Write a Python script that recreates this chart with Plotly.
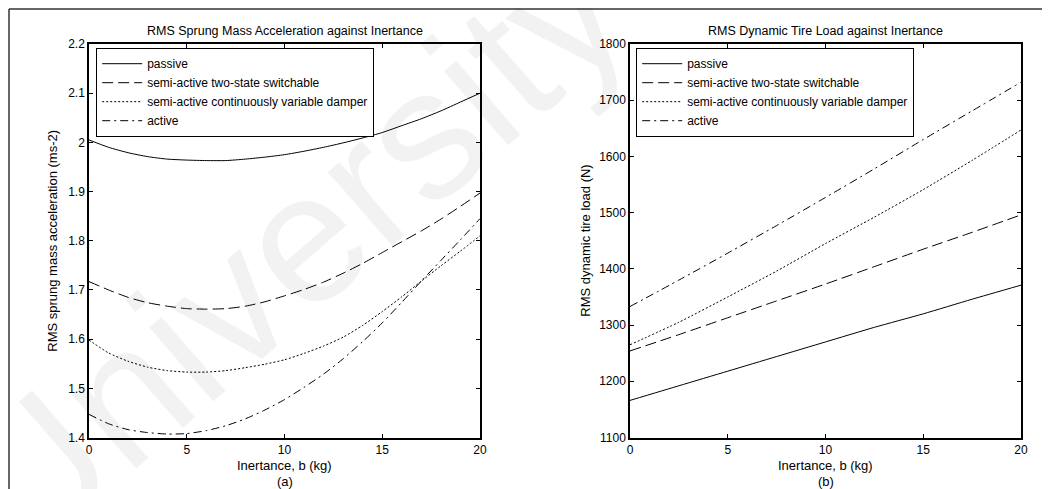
import plotly.graph_objects as go

# ---------------- data ----------------
b_a = list(range(0, 21))
acc_passive = [2.005, 1.990, 1.979, 1.971, 1.966, 1.964, 1.963, 1.963, 1.966, 1.970, 1.975,
               1.982, 1.990, 1.999, 2.009, 2.020, 2.034, 2.048, 2.064, 2.082, 2.100]
acc_two_state = [1.717, 1.700, 1.685, 1.674, 1.667, 1.662, 1.661, 1.662, 1.667, 1.676, 1.688,
                 1.701, 1.716, 1.734, 1.754, 1.776, 1.798, 1.820, 1.844, 1.870, 1.897]
acc_continuous = [1.598, 1.572, 1.555, 1.543, 1.536, 1.533, 1.533, 1.536, 1.542, 1.549, 1.558,
                  1.571, 1.586, 1.604, 1.628, 1.656, 1.686, 1.718, 1.749, 1.779, 1.810]
acc_active = [1.447, 1.428, 1.416, 1.410, 1.407, 1.408, 1.414, 1.424, 1.438, 1.456, 1.477,
              1.502, 1.529, 1.560, 1.595, 1.633, 1.675, 1.718, 1.760, 1.802, 1.845]

b_b = [0, 2.5, 5, 7.5, 10, 12.5, 15, 17.5, 20]
tire_passive = [1166, 1192, 1218, 1244, 1270, 1296, 1320, 1346, 1371]
tire_two_state = [1254, 1283, 1313, 1343, 1373, 1404, 1435, 1465, 1496]
tire_continuous = [1265, 1305, 1350, 1396, 1445, 1492, 1541, 1593, 1647]
tire_active = [1333, 1380, 1428, 1477, 1527, 1578, 1630, 1681, 1732]

names = ["passive", "semi-active two-state switchable",
         "semi-active continuously variable damper", "active"]
dashes = ["solid", "11px,5px", "2px,2px", "8px,4px,2px,4px"]

x_ticks = [0, 5, 10, 15, 20]
acc_ticks = [1.4, 1.5, 1.6, 1.7, 1.8, 1.9, 2.0, 2.1, 2.2]
acc_tick_text = ["1.4", "1.5", "1.6", "1.7", "1.8", "1.9", "2", "2.1", "2.2"]
tire_ticks = [1100, 1200, 1300, 1400, 1500, 1600, 1700, 1800]

FONT = "Liberation Sans, Arial, sans-serif"
OFF = 8                      # page body margin
W, H = 1050 - OFF, 489 - OFF  # figure size so it ends at the window edge


def fx(px):  # page px -> paper fraction (x)
    return (px - OFF) / W


def fy(py):  # page px -> paper fraction (y)
    return (H - (py - OFF)) / H


AX_L = (89, 480)
AX_R = (630, 1021)
AX_TOP, AX_BOT = 44, 437.5

fig = go.Figure()

for name, ys, d in zip(names, [acc_passive, acc_two_state, acc_continuous, acc_active], dashes):
    fig.add_trace(go.Scatter(x=b_a, y=ys, mode="lines", name=name, legend="legend",
                             line=dict(color="black", width=1, dash=d, shape="spline", smoothing=0.6),
                             xaxis="x", yaxis="y"))
for name, ys, d in zip(names, [tire_passive, tire_two_state, tire_continuous, tire_active], dashes):
    fig.add_trace(go.Scatter(x=b_b, y=ys, mode="lines", name=name, legend="legend2",
                             line=dict(color="black", width=1, dash=d, shape="spline", smoothing=0.6),
                             xaxis="x2", yaxis="y2"))

ydom = [fy(AX_BOT), fy(AX_TOP)]
axis_common = dict(showline=True, linecolor="black", linewidth=1.5, mirror="ticks",
                   ticks="inside", ticklen=4, tickcolor="black", showgrid=False, zeroline=False,
                   automargin=False,
                   tickfont=dict(family=FONT, size=12, color="black"))

legend_common = dict(xanchor="left", yanchor="top", bgcolor="white", bordercolor="black",
                     borderwidth=1.2, font=dict(family=FONT, size=12, color="black"),
                     tracegroupgap=0, itemwidth=40)

fig.update_layout(
    width=W, height=H,
    margin=dict(l=0, r=0, t=0, b=0, autoexpand=False),
    paper_bgcolor="white", plot_bgcolor="rgba(0,0,0,0)",
    font=dict(family=FONT, size=12, color="black"),
    xaxis=dict(domain=[fx(AX_L[0]), fx(AX_L[1])], range=[0, 20], tickvals=x_ticks, anchor="y",
               **axis_common),
    yaxis=dict(domain=ydom, range=[1.4, 2.2], tickvals=acc_ticks, ticktext=acc_tick_text, anchor="x",
               **axis_common),
    xaxis2=dict(domain=[fx(AX_R[0]), fx(AX_R[1])], range=[0, 20], tickvals=x_ticks, anchor="y2",
                **axis_common),
    yaxis2=dict(domain=ydom, range=[1100, 1800], tickvals=tire_ticks, anchor="x2",
                **axis_common),
    legend=dict(x=fx(96), y=fy(48), **legend_common),
    legend2=dict(x=fx(636), y=fy(48), **legend_common),
    showlegend=True,
)


def ann(text, xpx, ypx, angle=0, size=12.5, color="black"):
    return dict(text=text, x=fx(xpx), y=fy(ypx), xref="paper", yref="paper",
                xanchor="center", yanchor="middle", showarrow=False, textangle=angle,
                font=dict(family=FONT, size=size, color=color))


cxl = (AX_L[0] + AX_L[1]) / 2
cxr = (AX_R[0] + AX_R[1]) / 2
cy = (AX_TOP + AX_BOT) / 2
annotations = [
    ann("University", 290, 250, angle=-41, size=185, color="rgba(0,0,0,0.05)"),
    ann("RMS Sprung Mass Acceleration against Inertance", cxl, 31),
    ann("RMS Dynamic Tire Load against Inertance", cxr, 31),
    ann("Inertance, b (kg)", cxl, 465, size=13),
    ann("Inertance, b (kg)", cxr, 465, size=13),
    ann("(a)", cxl, 481, size=13),
    ann("(b)", cxr, 481, size=13),
    ann("RMS sprung mass acceleration (ms-2)", 53, cy, angle=-90, size=13),
    ann("RMS dynamic tire load (N)", 586, cy, angle=-90, size=13),
]
fig.update_layout(annotations=annotations)

fig.add_shape(type="line", xref="paper", yref="paper", x0=fx(9), x1=1, y0=fy(9), y1=fy(9),
              line=dict(color="#333333", width=1.5), layer="above")
fig.add_shape(type="line", xref="paper", yref="paper", x0=fx(9), x1=fx(9), y0=0, y1=fy(9),
              line=dict(color="#333333", width=1.5), layer="above")

fig.write_html("out.html")
